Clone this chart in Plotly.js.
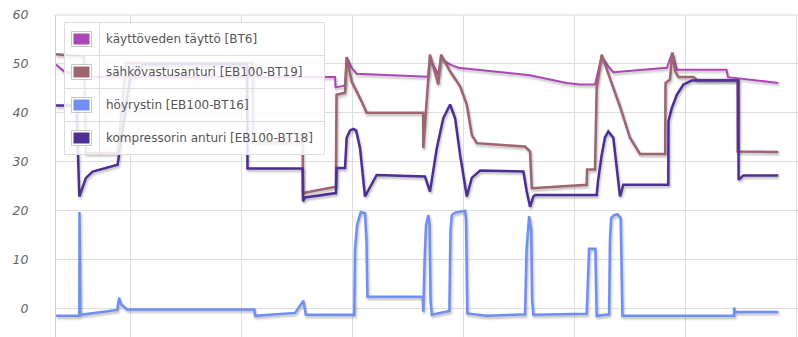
<!DOCTYPE html>
<html>
<head>
<meta charset="utf-8">
<script src="https://cdn.plot.ly/plotly-3.0.1.min.js"></script>
<style>
  html, body { margin: 0; padding: 0; background: #fff; }
  #chart { width: 798px; height: 337px; }
  #chart .scatterlayer .js-line { filter: drop-shadow(1px 2px 1.2px rgba(0,0,0,0.28)); }
</style>
</head>
<body>
<div id="chart"></div>
<script>
// Series names (legend)
const seriesNames = [
  "käyttöveden täyttö [BT6]",
  "sähkövastusanturi [EB100-BT19]",
  "höyrystin [EB100-BT16]",
  "kompressorin anturi [EB100-BT18]"
];
const seriesColors = ["#AD45B8", "#9E6470", "#6F8FF2", "#4D2E94"];

// Time axis in minutes (grid every 60 min)
// käyttöveden täyttö [BT6]
const bt6X = [0, 4.3, 18.4, 150.8, 151.1, 156.2, 157.1, 159.8, 162.5, 199.4, 201.1, 202.1, 206.6, 208.1, 210.3, 213.0, 217.4, 256.2, 276.0, 283.2, 291.3, 294.9, 298.5, 301.2, 330.1, 333.1, 335.5, 362.3, 363.2, 390.4];
const bt6Y = [49.9, 48.5, 47.3, 47.3, 45.2, 45.6, 51.4, 49.2, 48.0, 47.5, 47.4, 51.0, 47.8, 51.5, 50.5, 49.9, 49.2, 47.7, 46.1, 45.8, 45.8, 51.5, 49.5, 48.3, 49.2, 52.3, 48.8, 48.8, 47.3, 46.1];

// sähkövastusanturi [EB100-BT19]
const bt19X = [0, 15.1, 16.2, 33.3, 37.8, 106.3, 106.5, 133.3, 133.5, 151.3, 151.6, 156.2, 157.1, 159.8, 165.2, 167.9, 198.4, 198.5, 202.1, 206.6, 208.1, 213.0, 218.4, 222.0, 224.7, 227.4, 253.5, 256.2, 257.1, 286.8, 287.0, 291.3, 292.2, 294.9, 301.2, 304.8, 310.2, 315.6, 329.2, 329.4, 331.8, 333.1, 334.6, 336.4, 344.5, 346.7, 368.3, 368.4, 390.4];
const bt19Y = [52.0, 51.5, 31.8, 31.8, 50.2, 50.2, 34.0, 34.0, 23.6, 24.9, 43.7, 44.1, 51.4, 46.4, 42.3, 40.0, 40.0, 32.8, 51.9, 45.8, 51.9, 48.5, 45.4, 41.7, 35.5, 33.8, 33.1, 32.1, 24.6, 25.3, 28.4, 28.4, 45.0, 51.9, 45.1, 41.3, 34.9, 31.6, 31.6, 46.1, 46.8, 52.3, 48.5, 47.3, 47.3, 46.7, 46.7, 32.1, 32.0];

// höyrystin [EB100-BT16]
const bt16X = [0, 12.6, 12.7, 13.2, 33.1, 34.1, 35.1, 38.5, 107.2, 107.6, 129.2, 133.7, 135.0, 161.2, 161.6, 162.7, 164.7, 167.0, 167.8, 168.3, 198.2, 198.5, 199.2, 200.0, 201.2, 201.9, 202.4, 203.1, 212.6, 213.2, 213.9, 215.7, 221.1, 221.6, 222.3, 232.8, 253.5, 254.3, 255.7, 256.8, 257.3, 258.0, 286.8, 288.1, 291.5, 292.2, 298.9, 299.4, 300.0, 301.6, 303.4, 305.2, 306.1, 366.5, 366.5, 367.0, 390.4];
const bt16Y = [-1.5, -1.5, 19.7, -1.3, -0.3, 2.2, 0.9, -0.2, -0.2, -1.5, -0.9, 1.6, -1.3, -1.3, 12.0, 17.1, 19.7, 19.5, 14.0, 2.4, 2.4, -0.65, 9.9, 17.1, 19.1, 17.1, 1.7, -1.3, -0.5, 16.0, 19.1, 19.6, 20.0, 18.1, -1.0, -1.5, -1.2, 12.0, 18.9, 16.1, 1.7, -1.3, -1.1, 12.2, 12.2, -1.5, -1.2, 14.0, 18.5, 19.1, 19.3, 18.5, -1.5, -1.5, 0.2, -0.7, -0.7];

// kompressorin anturi [EB100-BT18]
const bt18X = [0, 11.1, 12.6, 16.2, 19.8, 33.3, 34.2, 40.0, 47.0, 103.2, 103.5, 133.3, 133.5, 134.6, 151.3, 151.6, 156.2, 157.1, 158.9, 160.7, 162.2, 164.3, 167.0, 173.3, 199.4, 202.1, 205.8, 209.3, 213.0, 215.7, 218.4, 222.0, 224.7, 229.2, 252.6, 254.4, 256.2, 258.0, 258.9, 292.2, 292.9, 294.9, 296.7, 298.5, 301.2, 303.9, 304.8, 306.6, 330.9, 331.0, 332.8, 335.5, 339.1, 343.6, 368.8, 368.9, 371.5, 390.4];
const bt18Y = [41.5, 41.5, 22.9, 26.7, 28.0, 29.4, 31.8, 47.0, 50.0, 50.0, 28.6, 28.6, 21.9, 22.7, 23.6, 28.7, 28.7, 34.9, 36.4, 36.7, 36.4, 32.8, 22.9, 27.3, 27.0, 23.9, 32.8, 38.9, 41.7, 38.9, 31.4, 22.9, 26.7, 28.2, 28.0, 23.9, 20.8, 22.9, 23.2, 23.2, 26.0, 31.4, 35.0, 36.2, 34.9, 26.0, 22.9, 25.3, 25.3, 38.3, 41.0, 43.7, 45.8, 46.6, 46.6, 26.3, 27.2, 27.2];

const yTickVals = [0, 10, 20, 30, 40, 50, 60];
const yTickText = ["0", "10", "20", "30", "40", "50", "60"];

const xs = [bt6X, bt19X, bt16X, bt18X];
const ys = [bt6Y, bt19Y, bt16Y, bt18Y];
const widths = [2, 2.5, 2.5, 2.5];

const traces = seriesNames.map((name, i) => ({
  type: "scatter", mode: "lines", name: name,
  x: xs[i], y: ys[i],
  line: { color: seriesColors[i], width: widths[i] },
  hoverinfo: "skip", showlegend: false
}));

// Layout geometry (pixels)
const W = 798, H = 337, ML = 56, MT = 15;
const PW = W - ML, PH = H - MT;
const PX = p => (p - ML) / PW;
const PY = p => (H - p) / PH;

// Legend table drawn as shapes + annotations
const shapes = [];
const annotations = [];
const lgL = 64.5, lgR = 324.5, lgT = 22.5, rowH = 33, colX = 99.5;
const lgB = lgT + rowH * seriesNames.length;
const gridC = "#dddddd";
shapes.push({ type: "rect", xref: "paper", yref: "paper", layer: "above",
  x0: PX(lgL), x1: PX(lgR), y0: PY(lgT), y1: PY(lgB),
  fillcolor: "rgba(255,255,255,0.86)", line: { color: gridC, width: 1 } });
for (let i = 1; i < seriesNames.length; i++) {
  const yy = lgT + rowH * i;
  shapes.push({ type: "line", xref: "paper", yref: "paper", layer: "above",
    x0: PX(lgL), x1: PX(lgR), y0: PY(yy), y1: PY(yy), line: { color: gridC, width: 1 } });
}
shapes.push({ type: "line", xref: "paper", yref: "paper", layer: "above",
  x0: PX(colX), x1: PX(colX), y0: PY(lgT), y1: PY(lgB), line: { color: gridC, width: 1 } });
seriesNames.forEach((name, i) => {
  const cy = lgT + rowH * i + 16.5;
  shapes.push({ type: "rect", xref: "paper", yref: "paper", layer: "above",
    x0: PX(71.5), x1: PX(91.5), y0: PY(cy - 7.5), y1: PY(cy + 7.5),
    fillcolor: "#ffffff", line: { color: "#c8c8c8", width: 1 } });
  shapes.push({ type: "rect", xref: "paper", yref: "paper", layer: "above",
    x0: PX(73.5), x1: PX(89.5), y0: PY(cy - 5.5), y1: PY(cy + 5.5),
    fillcolor: seriesColors[i], line: { width: 0 } });
  annotations.push({ xref: "paper", yref: "paper", x: PX(104), y: PY(cy),
    xanchor: "left", yanchor: "middle", showarrow: false, text: name,
    font: { family: "DejaVu Sans", size: 12, color: "#555555" } });
});
// top border
shapes.push({ type: "line", xref: "paper", yref: "paper", layer: "below",
  x0: 0, x1: 1, y0: 1, y1: 1, line: { color: "#d6d6d6", width: 1 } });

const layout = {
  width: W, height: H,
  margin: { l: ML, r: 0, t: MT, b: 0, pad: 0 },
  paper_bgcolor: "#ffffff", plot_bgcolor: "#ffffff",
  showlegend: false,
  xaxis: {
    range: [0, 401], tickmode: "linear", tick0: 40, dtick: 60,
    showticklabels: false, ticks: "", showgrid: true, gridcolor: "#dedede", gridwidth: 1,
    zeroline: false, showline: false, fixedrange: true
  },
  yaxis: {
    range: [-5.83, 60], tickmode: "array", tickvals: yTickVals, ticktext: yTickText,
    ticks: "", ticklabelstandoff: 24, showgrid: true, gridcolor: "#dedede", gridwidth: 1,
    zeroline: false, showline: true, linecolor: "#d0d0d0", linewidth: 1, mirror: false,
    tickfont: { family: "DejaVu Sans", size: 12.5, color: "#666666", style: "italic" },
    fixedrange: true
  },
  shapes: shapes,
  annotations: annotations
};

Plotly.newPlot("chart", traces, layout, { staticPlot: true, displayModeBar: false });
</script>
</body>
</html>
